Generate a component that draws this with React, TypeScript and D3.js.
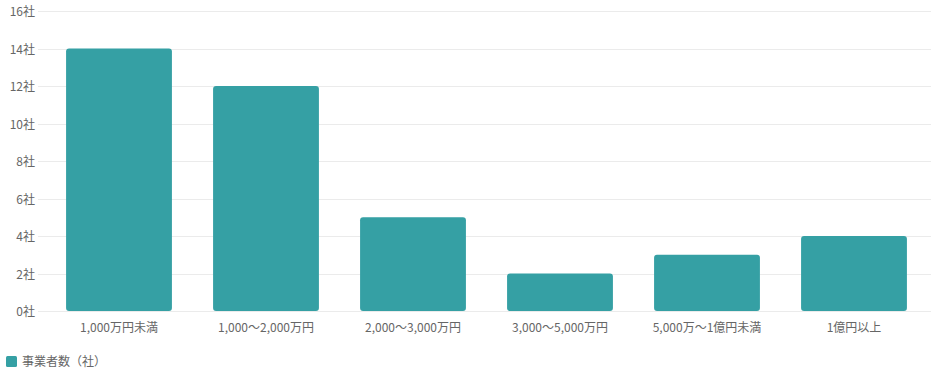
import React from "react";
import * as d3 from "d3";

const categories = ["1,000万円未満", "1,000〜2,000万円", "2,000〜3,000万円", "3,000〜5,000万円", "5,000万〜1億円未満", "1億円以上"];
const values = [14, 12, 5, 2, 3, 4];
const yTicks = [0, 2, 4, 6, 8, 10, 12, 14, 16];
const seriesName = "事業者数（社）";

const W = 931;
const H = 385;
const font = "'Noto Sans CJK JP', 'Noto Sans', sans-serif";

export default function App() {
  const x = d3.scaleBand<string>().domain(categories).range([45.5, 927.5]).paddingInner(0.28).paddingOuter(0.14);
  const y = d3.scaleLinear().domain([0, 16]).range([311, 11]);
  const bw = x.bandwidth();
  return (
    <svg width={W} height={H} style={{ position: "absolute", left: 0, top: 0, background: "#fff" }} fontFamily={font}>
      {yTicks.map((t) => (
        <g key={t}>
          <line x1={38} x2={931} y1={Math.round(y(t)) + 0.5} y2={Math.round(y(t)) + 0.5} stroke="#ebebeb" strokeWidth={1} />
          <text x={35} y={y(t) + 1} dy="0.35em" textAnchor="end" fontSize={12} fill="#666">{t}社</text>
        </g>
      ))}
      {values.map((v, i) => (
        <rect key={i} x={x(categories[i])!} y={y(v)} width={bw} height={y(0) - y(v)} rx={3} ry={3} fill="#35a0a4" />
      ))}
      {categories.map((c) => (
        <text key={c} x={x(c)! + bw / 2} y={328} dy="0.35em" textAnchor="middle" fontSize={12} fill="#666">{c}</text>
      ))}
      <rect x={6} y={356} width={11} height={11} rx={1.5} fill="#35a0a4" />
      <text x={22} y={361.5} dy="0.35em" fontSize={12} fill="#666">{seriesName}</text>
    </svg>
  );
}
